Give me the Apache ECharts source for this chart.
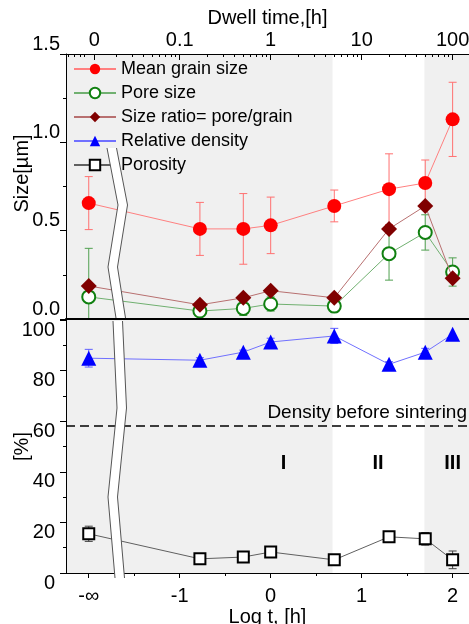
<!DOCTYPE html>
<html><head><meta charset="utf-8">
<script src="https://cdn.jsdelivr.net/npm/echarts@6/dist/echarts.min.js"></script>
<style>html,body{margin:0;padding:0;background:#fff}#c{width:469px;height:624px}</style>
</head><body><div id="c"></div>
<script>
// ---- data ----
const xLog = [-2, -0.778, -0.301, 0, 0.699, 1.301, 1.699, 2];
const grainSize = [0.656, 0.51, 0.51, 0.53, 0.64, 0.735, 0.77, 1.13];
const grainErr = [0.15, 0.15, 0.2, 0.16, 0.09, 0.2, 0.13, 0.21];
const poreSize = [0.125, 0.045, 0.06, 0.085, 0.073, 0.37, 0.49, 0.266];
const poreErr = [0.275, 0.03, 0.04, 0.04, 0.035, 0.15, 0.1, 0.08];
const sizeRatio = [0.187, 0.08, 0.12, 0.16, 0.12, 0.51, 0.64, 0.23];
const density = [84.9, 84.1, 87.3, 91.3, 93.7, 82.5, 87.3, 94.4];
const densityErr = [3.5, 1, 0.8, 1.5, 3, 1, 1.5, 0];
const porosity = [15.5, 5.6, 6.3, 8.3, 5.2, 14.3, 13.5, 5.2];
const porosityErr = [3, 1.5, 0.5, 0.5, 0, 0.5, 2.5, 3.5];
const densityBefore = 58.3;
const regionLabels = ['I', 'II', 'III'];
const regionX = [0.14, 1.18, 2.0];
const regionY = [43.3, 43.3, 43.3];
const topTickValues = [-1.94, -1, 0, 1, 2];
const topTickLabels = ['0', '0.1', '1', '10', '100'];
const bottomTickValues = [-2, -1, 0, 1, 2];
const bottomTickLabels = ['-∞', '-1', '0', '1', '2'];
const shadeRanges = [[-2.25, 0.68], [1.69, 2.18]];

// ---- helpers ----
const XMIN = -2.25, XMAX = 2.18;
const FONT = 'Liberation Sans, Arial, sans-serif';
function pairs(ys) { return xLog.map((x, i) => [x, ys[i]]); }
function errData(ys, es) { return xLog.map((x, i) => [x, ys[i], es[i]]); }
function nearestLabel(vals, labels) {
  return function (v) { let bi = 0; for (let i = 0; i < vals.length; i++) if (Math.abs(vals[i] - v) < Math.abs(vals[bi] - v)) bi = i; return labels[bi]; };
}
const topMinor = [];
[-3, -2, -1, 0, 1].forEach(d => { for (let k = 2; k <= 9; k++) { const v = d + Math.log10(k); if (v > XMIN && v < XMAX) topMinor.push(v); } });
const bottomMinor = [-1.5, -0.5, 0.5, 1.5];

function errSeries(name, ys, es, color, xi, yi) {
  return {
    type: 'custom', name: name + '_err', xAxisIndex: xi, yAxisIndex: yi, clip: true, z: 3,
    data: errData(ys, es),
    renderItem: function (params, api) {
      const x = api.value(0), y = api.value(1), e = api.value(2);
      if (!e) return null;
      const p1 = api.coord([x, y + e]), p2 = api.coord([x, y - e]);
      const w = 4;
      const st = { stroke: color, lineWidth: 1 };
      return { type: 'group', children: [
        { type: 'line', shape: { x1: p1[0], y1: p1[1], x2: p2[0], y2: p2[1] }, style: st },
        { type: 'line', shape: { x1: p1[0] - w, y1: p1[1], x2: p1[0] + w, y2: p1[1] }, style: st },
        { type: 'line', shape: { x1: p2[0] - w, y1: p2[1], x2: p2[0] + w, y2: p2[1] }, style: st }
      ] };
    }
  };
}
function bgSeries(xi, yi, ymin, ymax) {
  return {
    type: 'line', name: 'bg' + xi, xAxisIndex: xi, yAxisIndex: yi, data: [], z: 0, silent: true,
    markArea: { silent: true, itemStyle: { color: '#f0f0f0' },
      data: shadeRanges.map(r => [{ coord: [r[0], ymin] }, { coord: [r[1], ymax] }]) }
  };
}

const chart = echarts.init(document.getElementById('c'), null, { renderer: 'canvas' });
const axisCommon = { type: 'value', min: XMIN, max: XMAX, splitLine: { show: false }, z: 10, nameMoveOverlap: false };
const option = {
  animation: false,
  textStyle: { fontFamily: FONT },
  grid: [
    { left: 66, right: 0, top: 54, height: 265, containLabel: false, outerBoundsMode: 'none' },
    { left: 66, right: 0, top: 320, height: 253, containLabel: false, outerBoundsMode: 'none' }
  ],
  legend: {
    orient: 'vertical', left: 68, top: 55, itemWidth: 42, itemHeight: 13, itemGap: 6,
    textStyle: { fontSize: 18, color: '#000', fontFamily: FONT },
    data: ['Mean grain size', 'Pore size', 'Size ratio= pore/grain', 'Relative density', 'Porosity']
  },
  xAxis: [
    Object.assign({}, axisCommon, {
      gridIndex: 0, position: 'top', name: 'Dwell time,[h]', nameLocation: 'middle', nameGap: 26,
      nameTextStyle: { fontSize: 20, color: '#000', fontFamily: FONT },
      axisLine: { onZero: false, lineStyle: { color: '#000' } },
      axisTick: { inside: true, length: 6, customValues: topTickValues, lineStyle: { color: '#000' } },
      axisLabel: { customValues: topTickValues, formatter: nearestLabel(topTickValues, topTickLabels), fontSize: 20, color: '#000', margin: 4 }
    }),
    Object.assign({}, axisCommon, {
      gridIndex: 0, position: 'bottom', axisLine: { onZero: false, lineStyle: { color: '#000', width: 2 } },
      axisTick: { show: false }, axisLabel: { show: false }
    }),
    Object.assign({}, axisCommon, {
      gridIndex: 0, position: 'top', axisLine: { show: false, onZero: false },
      axisTick: { inside: true, length: 3, customValues: topMinor, lineStyle: { color: '#000' } },
      axisLabel: { show: false }
    }),
    Object.assign({}, axisCommon, {
      gridIndex: 1, position: 'bottom', name: 'Log t, [h]', nameLocation: 'middle', nameGap: 34,
      nameTextStyle: { fontSize: 20, color: '#000', fontFamily: FONT },
      axisLine: { onZero: false, lineStyle: { color: '#000' } },
      axisTick: { length: 5, customValues: bottomTickValues, lineStyle: { color: '#000' } },
      axisLabel: { customValues: bottomTickValues, formatter: nearestLabel(bottomTickValues, bottomTickLabels), fontSize: 20, color: '#000', margin: 13 }
    }),
    Object.assign({}, axisCommon, {
      gridIndex: 1, position: 'bottom', axisLine: { show: false, onZero: false },
      axisTick: { length: 3, customValues: bottomMinor, lineStyle: { color: '#000' } },
      axisLabel: { show: false }
    })
  ],
  yAxis: [
    { type: 'value', gridIndex: 0, min: 0, max: 1.5, interval: 0.5, name: 'Size[µm]', nameLocation: 'middle', nameGap: 34, z: 10, nameMoveOverlap: false,
      nameTextStyle: { fontSize: 20, color: '#000', fontFamily: FONT, padding: [0, 0, 0, 26] },
      axisLine: { show: true, onZero: false, lineStyle: { color: '#000' } },
      axisTick: { show: true, length: 6, lineStyle: { color: '#000' } },
      minorTick: { show: true, splitNumber: 2, length: 3, lineStyle: { color: '#000' } },
      splitLine: { show: false },
      axisLabel: { fontSize: 20, color: '#000', margin: 6, verticalAlign: 'bottom', formatter: v => v.toFixed(1) } },
    { type: 'value', gridIndex: 1, min: 0, max: 100, interval: 20, name: '[%]', nameLocation: 'middle', nameGap: 34, z: 10, nameMoveOverlap: false,
      nameTextStyle: { fontSize: 20, color: '#000', fontFamily: FONT },
      axisLine: { show: true, onZero: false, lineStyle: { color: '#000' } },
      axisTick: { show: true, length: 6, lineStyle: { color: '#000' } },
      minorTick: { show: true, splitNumber: 2, length: 3, lineStyle: { color: '#000' } },
      splitLine: { show: false },
      axisLabel: { fontSize: 20, color: '#000', margin: 11, verticalAlign: 'top' } }
  ],
  series: [
    bgSeries(0, 0, 0, 1.5),
    bgSeries(3, 1, 0, 100),
    errSeries('Mean grain size', grainSize, grainErr, '#ff7070', 0, 0),
    errSeries('Pore size', poreSize, poreErr, '#50a050', 0, 0),
    errSeries('Relative density', density, densityErr, '#6060ff', 3, 1),
    errSeries('Porosity', porosity, porosityErr, '#404040', 3, 1),
    { type: 'line', name: 'Mean grain size', xAxisIndex: 0, yAxisIndex: 0, data: pairs(grainSize), z: 4,
      symbol: 'circle', symbolSize: 14, itemStyle: { color: '#ff0000' }, lineStyle: { color: '#ff8080', width: 1 } },
    { type: 'line', name: 'Pore size', xAxisIndex: 0, yAxisIndex: 0, data: pairs(poreSize), z: 4,
      symbol: 'emptyCircle', symbolSize: 13, itemStyle: { color: '#108010', borderWidth: 1.5 }, lineStyle: { color: '#70b070', width: 1 } },
    { type: 'line', name: 'Size ratio= pore/grain', xAxisIndex: 0, yAxisIndex: 0, data: pairs(sizeRatio), z: 5,
      symbol: 'diamond', symbolSize: 16, itemStyle: { color: '#800000' }, lineStyle: { color: '#b87070', width: 1 } },
    { type: 'line', name: 'Relative density', xAxisIndex: 3, yAxisIndex: 1, data: pairs(density), z: 4,
      symbol: 'triangle', symbolSize: 15, itemStyle: { color: '#0000ff' }, lineStyle: { color: '#7070ff', width: 1 },
      markLine: { silent: true, symbol: 'none', lineStyle: { type: [9, 5], color: '#000', width: 1.5 },
        label: { show: true, position: 'insideEndTop', formatter: 'Density before sintering', fontSize: 19, color: '#000', fontFamily: FONT, distance: [2, 3] },
        data: [{ yAxis: densityBefore }] } },
    { type: 'line', name: 'Porosity', xAxisIndex: 3, yAxisIndex: 1, data: pairs(porosity), z: 4,
      symbol: 'emptyRect', symbolSize: 11, itemStyle: { color: '#000', borderWidth: 1 }, lineStyle: { color: '#606060', width: 1 },
      markPoint: { silent: true, symbol: 'circle', symbolSize: 0,
        label: { show: true, position: 'inside', formatter: p => p.name, fontSize: 20, fontWeight: 'bold', color: '#000', fontFamily: FONT },
        data: regionLabels.map((t, i) => ({ name: t, coord: [regionX[i], regionY[i]] })) } }
  ]
};
chart.setOption(option);

// axis-break decoration (two zigzag lines with white gap)
const upperBreak = [[107, 148], [118, 205], [108, 267], [116, 318]];
const lowerBreak = [[113, 321], [117, 408], [108, 497], [115, 578]];
const gapW = 9.5;
function breakGraphics(pts) {
  const right = pts.map(p => [p[0] + gapW, p[1]]);
  return [
    { type: 'polygon', z: 100, shape: { points: pts.concat(right.slice().reverse()) }, style: { fill: '#ffffff' } },
    { type: 'polyline', z: 101, shape: { points: pts }, style: { stroke: '#555', lineWidth: 1, fill: null } },
    { type: 'polyline', z: 101, shape: { points: right }, style: { stroke: '#555', lineWidth: 1, fill: null } }
  ];
}
chart.setOption({ graphic: breakGraphics(upperBreak).concat(breakGraphics(lowerBreak)) });
</script></body></html>
